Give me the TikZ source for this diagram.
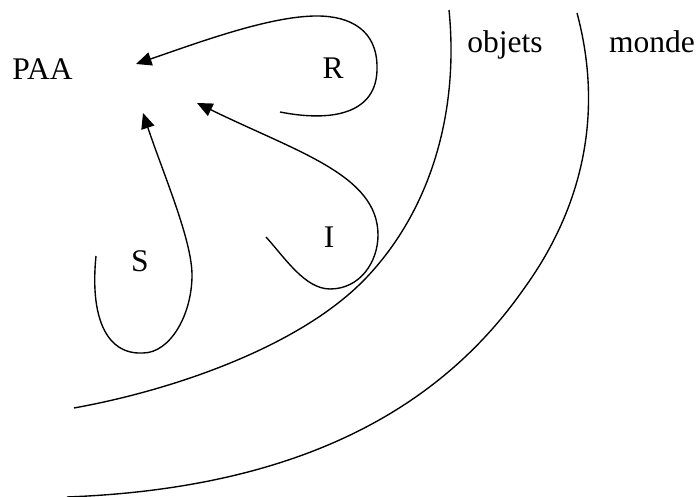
\documentclass[tikz,border=0pt]{standalone}
\usepackage{fontspec}
\setmainfont{Liberation Serif}
\usetikzlibrary{arrows.meta}
\tikzset{
  term/.style={inner sep=0pt, anchor=base, font=\fontsize{12.6}{15}\selectfont},
  zone/.style={line width=0.55pt, draw=black},
  feedback/.style={-{Triangle[length=6.2pt,width=5.4pt]}, line width=0.55pt, draw=black}
}
\begin{document}
\begin{tikzpicture}[x=0.4pt, y=0.4pt]
\useasboundingbox (0,0) rectangle (698,497);
\node[term] (paa) at (42.5,417) {PAA};
\node[term] (r) at (333,418) {R};
\node[term] (i) at (329,249) {I};
\node[term] (s) at (140,225) {S};
\node[term] (objets) at (505,444) {objets};
\node[term] (monde) at (652,444) {monde};
% loop ends
\coordinate (r-start) at (280,385);
\coordinate (r-tip) at (136,433);
\coordinate (i-start) at (266,260);
\coordinate (i-tip) at (197,394);
\coordinate (s-start) at (96,241);
\coordinate (s-tip) at (143,384);
% zone ends
\coordinate (objets-top) at (449,487);
\coordinate (objets-end) at (74,89);
\coordinate (monde-top) at (577,484);
\coordinate (monde-end) at (67,0);
\draw[zone] (objets-top) .. controls (459,387) and (432,289) .. (367,220)
  .. controls (302,151) and (174,107) .. (objets-end);
\draw[zone] (monde-top) .. controls (603,387) and (585,292) .. (523,207)
  .. controls (431,76) and (280,8) .. (monde-end);
\draw[feedback] (r-start) .. controls (330,375) and (378,382) .. (377,430)
  .. controls (377,467) and (350,481) .. (317,481)
  .. controls (270,481) and (200,455) .. (r-tip);
\draw[feedback] (i-start) .. controls (285,239) and (305,208) .. (330,208)
  .. controls (360,208) and (378,235) .. (378,262)
  .. controls (378,322) and (297,345) .. (i-tip);
\draw[feedback] (s-start) .. controls (90,182) and (105,142) .. (143,144)
  .. controls (170,144) and (192,182) .. (192,222)
  .. controls (192,257) and (163,324) .. (s-tip);
\end{tikzpicture}
\end{document}
